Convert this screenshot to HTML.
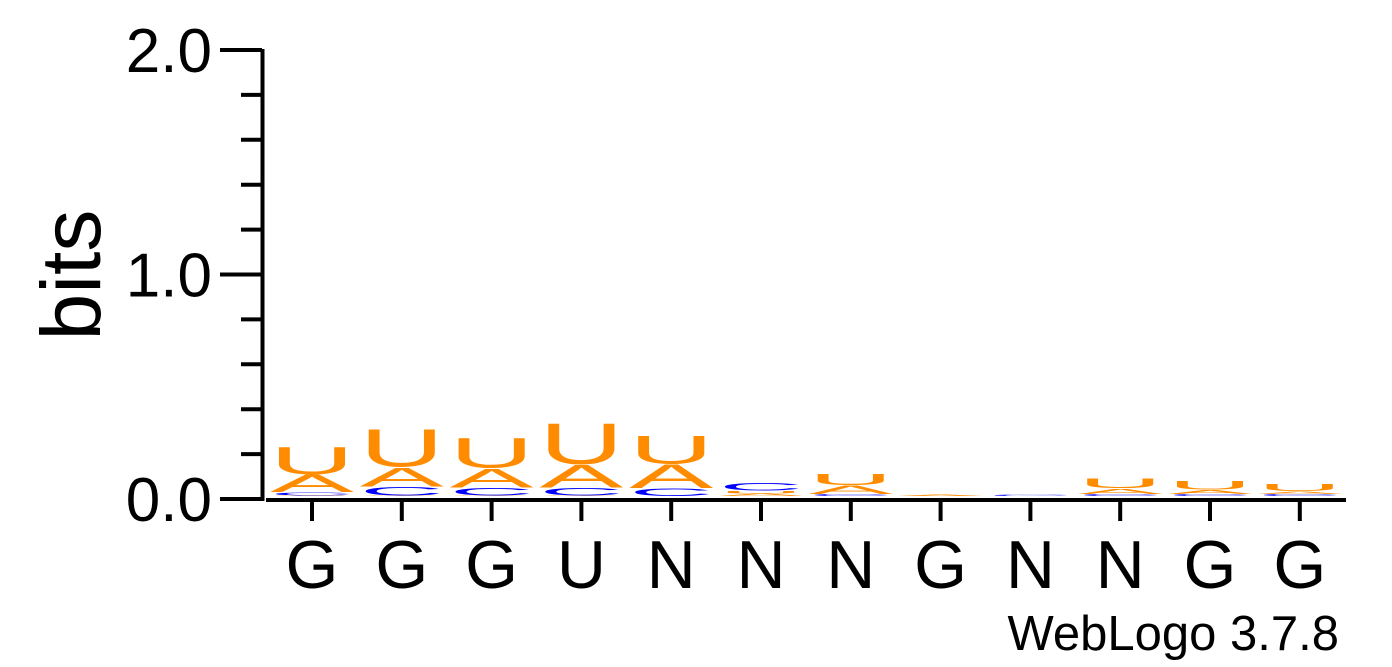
<!DOCTYPE html>
<html><head><meta charset="utf-8"><style>
html,body{margin:0;padding:0;background:#fff;}
svg{display:block;font-family:"Liberation Sans",sans-serif;}
</style></head><body>
<svg id="chart" width="1392" height="667" viewBox="0 0 1392 667">
<g id="axes"></g>
<g id="stacks"></g>
<text transform="translate(100,275) rotate(-90)" font-size="84" text-anchor="middle">bits</text>
<text x="1339" y="650" font-size="49" text-anchor="end">WebLogo 3.7.8</text>
</svg>
<script>
const positions = ["G","G","G","U","N","N","N","G","N","N","G","G"];
const valsG = [0.003,0.003,0.003,0.003,0.002,0.002,0.002,0,0,0.002,0.002,0.002];
const valsC = [0.015,0.04,0.035,0.035,0.035,0.035,0.01,0,0.005,0.01,0.01,0.01];
const valsA = [0.08,0.088,0.088,0.105,0.11,0.012,0.038,0.005,0,0.025,0.018,0.012];
const valsU = [0.125,0.175,0.138,0.19,0.13,0.012,0.05,0,0,0.044,0.038,0.034];
const yTicks = [0,0.2,0.4,0.6,0.8,1.0,1.2,1.4,1.6,1.8,2.0];
const yLabels = ["0.0","1.0","2.0"];

const NS="http://www.w3.org/2000/svg";
const y0=499, pxPerBit=224.5;
const yS = v => y0 - v*pxPerBit;
const step=89.8, colW=84, x0=270;
const xL = i => x0 + i*step;
const letterColor={G:"#FFA500",C:"#0000FF",A:"#FF8C00",U:"#FF8C00"};

const axes=document.getElementById('axes');
function el(tag,attrs,parent){const e=document.createElementNS(NS,tag);for(const k in attrs)e.setAttribute(k,attrs[k]);parent.appendChild(e);return e;}

let yl=el('line',{x1:262.5,y1:yS(2)-1,x2:262.5,y2:y0+2,stroke:'#000','stroke-width':4},axes);


let xl=el('line',{x1:266,y1:y0+1,x2:1346,y2:y0+1,stroke:'#000','stroke-width':4},axes);



yTicks.forEach((t,i)=>{
  const major = (i%5===0);
  const ln=el('line',{x1:major?220:241,x2:262,y1:yS(t),y2:yS(t),stroke:'#000','stroke-width':4},axes);
  
  
  if(major){
    const tx=el('text',{x:212,y:yS(t)+22,'font-size':62,'text-anchor':'end'},axes);
    tx.textContent=yLabels[i/5];
    
    
  }
});

positions.forEach((p,i)=>{
  const cx=xL(i)+colW/2;
  const tk=el('line',{x1:cx,x2:cx,y1:y0+3,y2:y0+22,stroke:'#000','stroke-width':4},axes);
  
  
  const tx=el('text',{x:cx,y:588,'font-size':68,'text-anchor':'middle'},axes);
  tx.textContent=p;
  
  
});

const stacks=document.getElementById('stacks');
const series={G:valsG,C:valsC,A:valsA,U:valsU};
positions.forEach((p,i)=>{
  const items=Object.keys(series).map(k=>({k,v:series[k][i]})).filter(o=>o.v>0).sort((a,b)=>a.v-b.v);
  let base=y0-3;
  items.forEach(o=>{
    const h=o.v*pxPerBit;
    if(h<0.5)return;
    const t=el('text',{x:0,y:0,'font-size':100,fill:letterColor[o.k],textLength:colW,lengthAdjust:'spacingAndGlyphs',transform:`translate(${xL(i)},${base}) scale(1,${h/72.9})`},stacks);
    t.textContent=o.k;
    
    
    base-=h;
  });
});
</script>
</body></html>
